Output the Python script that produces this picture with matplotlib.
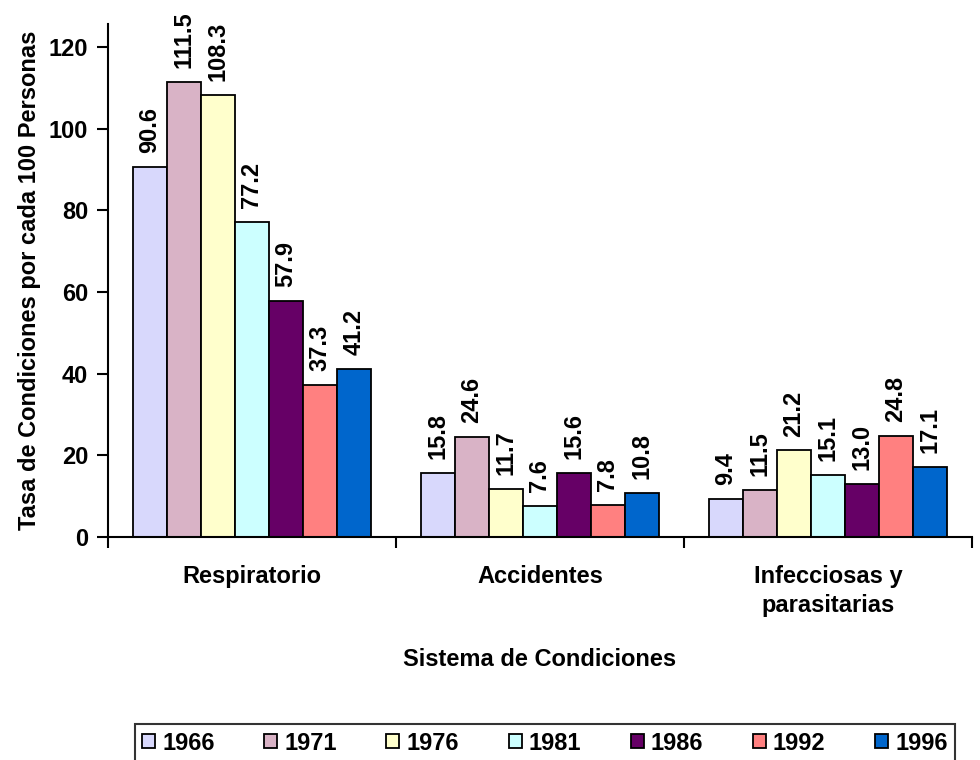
import numpy as np
import matplotlib
matplotlib.use('Agg')
import matplotlib.pyplot as plt

categories = ['Respiratorio', 'Accidentes', 'Infecciosas y\nparasitarias']
years = ['1966', '1971', '1976', '1981', '1986', '1992', '1996']
values = {
    '1966': [90.6, 15.8, 9.4],
    '1971': [111.5, 24.6, 11.5],
    '1976': [108.3, 11.7, 21.2],
    '1981': [77.2, 7.6, 15.1],
    '1986': [57.9, 15.6, 13.0],
    '1992': [37.3, 7.8, 24.8],
    '1996': [41.2, 10.8, 17.1],
}
colours = ['#D8D8FC', '#D9B3C6', '#FFFFCC', '#CCFFFF', '#660066', '#FF8080', '#0066CC']

plt.rcParams['font.family'] = ['Liberation Sans', 'DejaVu Sans']
plt.rcParams['font.weight'] = 'bold'
FS = 17

fig = plt.figure(figsize=(9.8, 7.6), dpi=100)
ax = fig.add_axes([0.110, 0.2934, 0.882, 0.6746])

x = np.arange(len(categories))
w = 0.118
for i, (yr, col) in enumerate(zip(years, colours)):
    bars = ax.bar(x + (i - 3) * w, values[yr], width=w, color=col,
                  edgecolor='black', linewidth=1.3, label=yr)
    for b, v in zip(bars, values[yr]):
        ax.annotate(f'{v:.1f}', (b.get_x() + b.get_width() / 2, v),
                    xytext=(0, 10), textcoords='offset points',
                    rotation=90, ha='center', va='bottom',
                    fontsize=FS, fontweight='bold')

ax.set_xlim(-0.5, 2.5)
ax.set_ylim(0, 125.6)
ax.set_yticks(np.arange(0, 121, 20))
ax.set_xticks([-0.5, 0.5, 1.5, 2.5])
ax.set_xticklabels([])
ax.set_xticks(x, minor=True)
ax.set_xticklabels(categories, minor=True, fontsize=FS, fontweight='bold', linespacing=1.35)
ax.tick_params(axis='x', which='minor', length=0, pad=20)
ax.tick_params(axis='x', which='major', length=8, width=1.5, direction='out')
ax.tick_params(axis='y', length=8, width=1.5, direction='out', labelsize=FS, pad=6)
for lab in ax.get_yticklabels():
    lab.set_fontweight('bold')
for s in ['top', 'right']:
    ax.spines[s].set_visible(False)
for s in ['left', 'bottom']:
    ax.spines[s].set_linewidth(1.5)

ax.set_ylabel('Tasa de Condiciones por cada 100 Personas', fontsize=FS, fontweight='bold', labelpad=6)
fig.text(0.551, 1 - 660 / 760, 'Sistema de Condiciones', ha='center', va='center',
         fontsize=FS, fontweight='bold')

leg = fig.legend(loc='center', bbox_to_anchor=(0.556, 1 - 743 / 760), ncol=7,
                 fontsize=FS, frameon=True, fancybox=False, edgecolor='black',
                 handlelength=0.55, handleheight=0.55, handletextpad=0.3,
                 columnspacing=2.1, borderpad=0.3)
leg.get_frame().set_linewidth(1.5)
for t in leg.get_texts():
    t.set_fontweight('bold')

fig.savefig('out.png', dpi=100)
